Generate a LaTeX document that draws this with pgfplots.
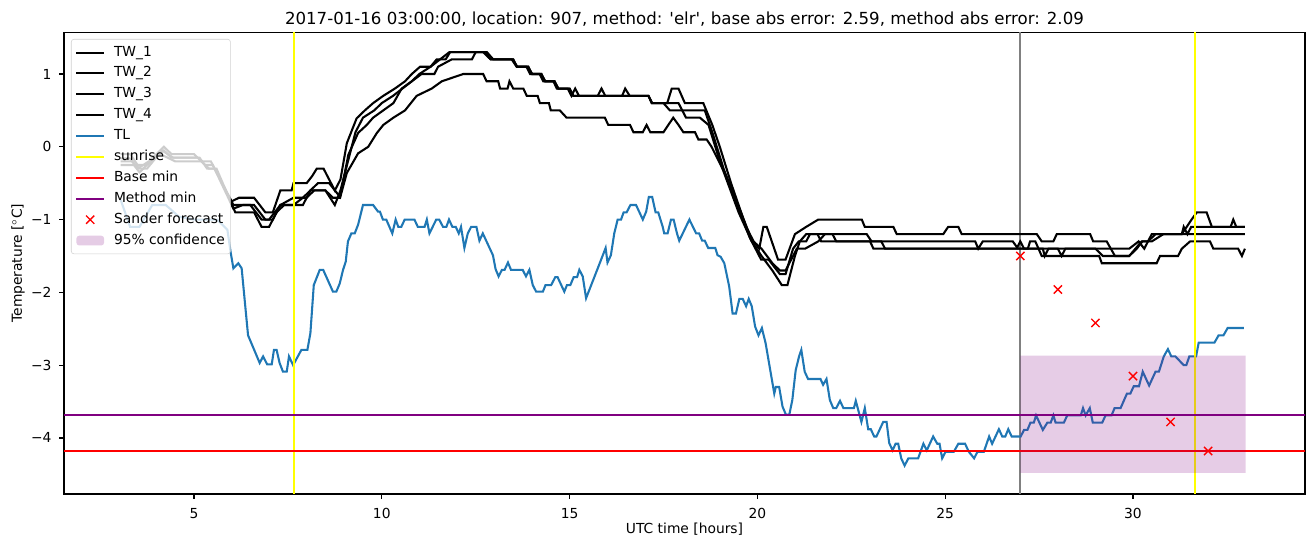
\documentclass[border=0pt]{standalone}
\usepackage{pgfplots}
\pgfplotsset{compat=1.18}
\usepackage{fontspec}
\setmainfont{DejaVu Sans}
\definecolor{tlblue}{RGB}{31,119,180}
\definecolor{mplpurple}{RGB}{128,0,128}
\definecolor{mplgray}{RGB}{128,128,128}
\definecolor{mplyellow}{RGB}{255,255,0}
\definecolor{mplred}{RGB}{255,0,0}
\pgfplotsset{boxlegend/.style={legend image code/.code={\fill[##1] (0pt,-3.5pt) rectangle (20pt,3.5pt);}}}
\begin{document}
\begin{tikzpicture}
\begin{axis}[
  name=ax, at={(0,0)}, anchor=south west,
  scale only axis, width=12.41in, height=4.617in,
  xmin=1.54, xmax=34.58, ymin=-4.77, ymax=1.573,
  xtick={5,10,15,20,25,30},
  ytick={-4,-3,-2,-1,0,1}, yticklabels={−4,−3,−2,−1,0,1},
  tick align=outside, xtick pos=bottom, ytick pos=left,
  major tick length=3.5pt,
  every tick/.style={black, line width=0.8pt},
  axis line style={line width=0.8pt},
  ticklabel style={font=\fontsize{10}{12}\selectfont},
  xticklabel style={yshift=-3.5pt},
  yticklabel style={xshift=-2pt},
  /pgf/number format/assume math mode=true,
  xlabel={UTC time [hours]}, ylabel={Temperature [$^\circ$C]},
  label style={font=\fontsize{10}{12}\selectfont},
  xlabel style={at={(axis description cs:0.5,-0.0758)}, anchor=center},
  ylabel style={at={(axis description cs:-0.0371,0.5)}, anchor=center},
  title={2017-01-16 03:00:00, location: 907, method: \textquotesingle elr\textquotesingle, base abs error: 2.59, method abs error: 2.09},
  title style={font=\fontsize{12}{14}\selectfont, yshift=-5.3pt},
  legend cell align=left,
  legend style={at={(0.0056,0.9855)}, anchor=north west, draw=black!18, rounded corners=2pt,
    fill=white, fill opacity=0.8, text opacity=1, draw opacity=1,
    font=\fontsize{10}{12}\selectfont, row sep=3.1pt, column sep=5.5pt, inner xsep=3pt, inner ysep=3.6pt,
    nodes={inner sep=1pt, text height=7.5pt, text depth=2.5pt}},
  legend image code/.code={\draw[mark repeat=2,mark phase=2,#1] plot coordinates {(0cm,0cm) (0.35cm,0cm) (0.7cm,0cm)};},
  every axis plot/.append style={line width=1.5pt},
]
\addplot[mplgray, forget plot] coordinates {(27.0,-10) (27.0,10)};
% TW_1
\addplot[black, sharp plot] coordinates {(3.05,-0.16)(3.3,-0.16)(3.5,-0.3)(3.8,-0.2)(4.2,0.0)(4.4,-0.1)(5.0,-0.1)(5.2,-0.2)(5.45,-0.2)(6.0,-0.75)(6.2,-0.7)(6.6,-0.7)(6.9,-0.9)(7.1,-0.9)(7.3,-0.6)(7.6,-0.6)(7.65,-0.5)(8.0,-0.5)(8.15,-0.4)(8.27,-0.3)(8.45,-0.3)(8.75,-0.6)(8.9,-0.45)(9.07,0.05)(9.33,0.39)(9.55,0.5)(9.77,0.6)(10.04,0.7)(10.35,0.8)(10.62,0.9)(10.8,1.0)(11.02,1.1)(11.3,1.1)(11.46,1.2)(11.7,1.2)(11.82,1.3)(12.8,1.3)(12.97,1.2)(13.46,1.2)(13.59,1.1)(13.85,1.1)(13.95,1.0)(14.2,1.0)(14.3,0.9)(14.57,0.9)(14.66,0.8)(14.95,0.8)(15.05,0.7)(15.15,0.8)(15.25,0.7)(15.75,0.7)(15.85,0.8)(15.95,0.7)(16.4,0.7)(16.48,0.8)(16.6,0.7)(17.1,0.7)(17.19,0.6)(17.6,0.6)(17.72,0.8)(17.9,0.8)(18.07,0.6)(18.56,0.6)(18.8,0.3)(19.0,0.0)(19.3,-0.5)(19.5,-0.8)(19.7,-1.1)(19.9,-1.3)(20.05,-1.4)(20.16,-1.1)(20.25,-1.1)(20.55,-1.55)(20.75,-1.55)(21.0,-1.2)(21.3,-1.1)(21.62,-1.0)(22.78,-1.0)(22.86,-1.1)(23.62,-1.1)(23.71,-1.2)(24.95,-1.2)(25.08,-1.1)(25.35,-1.1)(25.44,-1.2)(27.44,-1.2)(27.57,-1.3)(27.88,-1.3)(27.97,-1.2)(28.86,-1.2)(28.94,-1.3)(29.3,-1.3)(29.52,-1.5)(29.9,-1.5)(30.23,-1.3)(30.5,-1.3)(30.81,-1.2)(31.3,-1.2)(31.56,-1.0)(31.7,-0.9)(31.96,-0.9)(32.1,-1.1)(32.98,-1.1)};
\addlegendentry{TW\_1}
% TW_2
\addplot[black] coordinates {(3.05,-0.1)(3.3,-0.1)(3.5,-0.25)(3.7,-0.25)(4.2,-0.05)(4.4,-0.15)(5.1,-0.15)(5.3,-0.25)(5.5,-0.25)(6.05,-0.85)(6.3,-0.8)(6.6,-0.8)(6.9,-1.0)(7.1,-1.0)(7.3,-0.8)(7.9,-0.8)(8.1,-0.6)(8.3,-0.5)(8.6,-0.5)(8.89,-0.69)(9.11,-0.11)(9.37,0.19)(9.6,0.3)(9.77,0.4)(10.04,0.5)(10.31,0.6)(10.53,0.8)(10.8,0.9)(11.06,1.0)(11.4,1.0)(11.5,1.1)(11.86,1.2)(12.4,1.2)(12.5,1.3)(12.75,1.3)(12.9,1.2)(13.5,1.2)(13.6,1.1)(13.9,1.1)(14.0,1.0)(14.25,1.0)(14.35,0.9)(14.6,0.9)(14.7,0.8)(15.0,0.8)(15.1,0.7)(17.1,0.7)(17.2,0.6)(17.5,0.6)(17.67,0.5)(18.0,0.5)(18.1,0.4)(18.47,0.4)(18.7,0.3)(19.0,-0.2)(19.5,-0.9)(19.85,-1.3)(20.11,-1.5)(20.4,-1.7)(20.65,-1.9)(20.8,-1.9)(21.0,-1.5)(21.13,-1.3)(21.3,-1.2)(22.91,-1.2)(23.04,-1.3)(25.8,-1.3)(25.88,-1.4)(26.0,-1.3)(26.8,-1.3)(26.94,-1.4)(27.2,-1.4)(27.26,-1.3)(27.4,-1.3)(27.57,-1.5)(29.1,-1.5)(29.17,-1.6)(30.63,-1.6)(30.72,-1.5)(31.2,-1.5)(31.3,-1.4)(31.52,-1.3)(32.05,-1.3)(32.14,-1.4)(32.8,-1.4)(32.9,-1.5)(32.98,-1.4)};
\addlegendentry{TW\_2}
% TW_3
\addplot[black] coordinates {(3.05,-0.25)(3.4,-0.25)(3.55,-0.35)(3.75,-0.25)(4.1,-0.1)(4.5,-0.2)(5.2,-0.2)(5.4,-0.3)(5.6,-0.3)(6.1,-0.9)(6.6,-0.9)(6.8,-1.1)(7.0,-1.1)(7.2,-0.9)(7.4,-0.8)(7.65,-0.8)(7.9,-0.7)(8.1,-0.6)(8.5,-0.6)(8.7,-0.7)(8.89,-0.7)(9.07,-0.36)(9.37,-0.09)(9.64,0.0)(9.87,0.19)(10.04,0.3)(10.31,0.4)(10.62,0.5)(10.93,0.7)(11.33,0.8)(11.6,0.9)(12.17,1.0)(12.7,1.0)(12.79,0.9)(13.1,0.9)(13.15,0.8)(13.35,0.8)(13.4,0.9)(13.5,0.8)(13.77,0.8)(13.86,0.7)(14.15,0.7)(14.21,0.6)(14.45,0.6)(14.5,0.5)(14.74,0.5)(14.92,0.4)(15.94,0.4)(16.03,0.3)(16.61,0.3)(16.7,0.2)(16.95,0.2)(17.05,0.3)(17.15,0.2)(17.5,0.2)(17.76,0.4)(17.9,0.3)(18.03,0.2)(18.34,0.2)(18.43,0.1)(18.65,0.1)(18.78,0.0)(19.18,-0.41)(19.54,-0.87)(19.85,-1.28)(20.11,-1.4)(20.4,-1.6)(20.6,-1.7)(20.75,-1.7)(21.05,-1.4)(21.27,-1.4)(21.62,-1.3)(21.8,-1.2)(22.0,-1.2)(22.1,-1.3)(23.0,-1.3)(23.09,-1.4)(27.6,-1.4)(27.65,-1.5)(27.75,-1.4)(28.0,-1.4)(28.1,-1.5)(28.2,-1.4)(29.9,-1.4)(30.15,-1.3)(30.3,-1.4)(30.4,-1.3)(30.6,-1.2)(31.3,-1.2)(31.35,-1.1)(31.45,-1.2)(31.55,-1.1)(32.6,-1.1)(32.67,-1.0)(32.75,-1.1)(32.98,-1.1)};
\addlegendentry{TW\_3}
% TW_4
\addplot[black] coordinates {(3.05,-0.2)(3.35,-0.2)(3.55,-0.3)(3.75,-0.3)(4.15,-0.05)(4.45,-0.15)(5.15,-0.15)(5.35,-0.3)(5.55,-0.3)(6.05,-0.8)(6.5,-0.8)(6.8,-1.0)(7.0,-1.0)(7.3,-0.8)(7.65,-0.7)(8.0,-0.7)(8.2,-0.6)(8.5,-0.6)(8.75,-0.8)(8.9,-0.6)(9.1,-0.2)(9.3,0.2)(9.5,0.4)(9.8,0.5)(10.0,0.6)(10.3,0.7)(10.55,0.8)(10.8,0.9)(11.0,1.0)(11.3,1.1)(11.55,1.2)(11.8,1.3)(12.7,1.3)(12.9,1.2)(13.5,1.2)(13.6,1.1)(13.9,1.1)(14.0,1.0)(14.25,1.0)(14.35,0.9)(14.6,0.9)(14.7,0.8)(15.0,0.8)(15.1,0.7)(17.1,0.7)(17.19,0.6)(17.9,0.6)(18.0,0.5)(18.6,0.5)(18.8,0.2)(19.1,-0.3)(19.5,-0.85)(19.8,-1.25)(20.1,-1.55)(20.3,-1.55)(20.6,-1.75)(20.75,-1.75)(20.95,-1.4)(21.1,-1.3)(21.3,-1.3)(21.4,-1.2)(21.6,-1.2)(21.7,-1.3)(23.3,-1.3)(23.4,-1.4)(26.9,-1.4)(27.0,-1.3)(27.1,-1.4)(29.0,-1.4)(29.2,-1.5)(29.9,-1.5)(30.1,-1.4)(30.25,-1.3)(30.4,-1.3)(30.5,-1.2)(32.98,-1.2)};
\addlegendentry{TW\_4}
% TL
\addplot[tlblue] coordinates {(3.05,-0.73)(3.3,-1.10)(3.55,-1.10)(3.89,-0.80)(4.25,-0.80)(4.6,-0.96)(5.0,-1.0)(5.62,-1.0)(5.89,-1.14)(5.98,-1.46)(6.05,-1.67)(6.18,-1.60)(6.27,-1.67)(6.44,-2.59)(6.75,-2.97)(6.84,-2.88)(6.95,-2.99)(7.07,-2.99)(7.13,-2.79)(7.2,-2.79)(7.28,-2.97)(7.37,-3.09)(7.47,-3.09)(7.53,-2.88)(7.64,-3.0)(7.86,-2.79)(8.02,-2.79)(8.1,-2.56)(8.19,-1.90)(8.35,-1.69)(8.44,-1.69)(8.7,-1.99)(8.79,-1.99)(8.88,-1.88)(8.97,-1.69)(9.04,-1.58)(9.1,-1.30)(9.19,-1.19)(9.28,-1.19)(9.37,-1.07)(9.5,-0.80)(9.77,-0.80)(9.9,-0.89)(9.95,-0.89)(10.03,-1.0)(10.12,-1.0)(10.28,-1.19)(10.37,-1.0)(10.44,-1.10)(10.52,-1.10)(10.61,-1.0)(10.87,-1.0)(10.96,-1.10)(11.14,-1.10)(11.2,-1.0)(11.27,-1.19)(11.45,-1.0)(11.53,-1.0)(11.63,-1.10)(11.72,-1.10)(11.79,-1.0)(11.88,-1.10)(11.97,-1.10)(12.05,-1.19)(12.11,-1.10)(12.2,-1.39)(12.29,-1.19)(12.38,-1.10)(12.52,-1.10)(12.6,-1.29)(12.69,-1.19)(12.96,-1.49)(13.03,-1.68)(13.11,-1.78)(13.2,-1.69)(13.27,-1.69)(13.36,-1.59)(13.44,-1.69)(13.75,-1.69)(13.84,-1.78)(13.93,-1.69)(14.02,-1.90)(14.11,-1.99)(14.29,-1.99)(14.36,-1.90)(14.51,-1.90)(14.62,-1.79)(14.68,-1.79)(14.86,-1.99)(14.93,-1.90)(15.02,-1.90)(15.11,-1.79)(15.2,-1.79)(15.26,-1.69)(15.35,-1.78)(15.44,-2.08)(15.75,-1.67)(15.96,-1.39)(16.01,-1.59)(16.1,-1.49)(16.19,-1.19)(16.28,-1.0)(16.37,-1.0)(16.44,-0.90)(16.52,-0.90)(16.62,-0.80)(16.77,-0.80)(16.95,-1.0)(17.04,-0.89)(17.11,-0.69)(17.2,-0.69)(17.29,-0.9)(17.36,-0.9)(17.48,-1.10)(17.52,-1.19)(17.61,-1.19)(17.7,-1.0)(17.77,-1.0)(17.86,-1.19)(17.92,-1.29)(18.19,-1.0)(18.37,-1.19)(18.45,-1.19)(18.53,-1.29)(18.6,-1.29)(18.69,-1.39)(18.88,-1.39)(18.94,-1.49)(19.02,-1.51)(19.12,-1.60)(19.25,-1.92)(19.34,-2.29)(19.43,-2.29)(19.52,-2.09)(19.61,-2.09)(19.7,-2.19)(19.77,-2.09)(19.85,-2.19)(19.94,-2.47)(20.03,-2.59)(20.12,-2.49)(20.22,-2.70)(20.31,-2.97)(20.45,-3.39)(20.49,-3.30)(20.58,-3.30)(20.67,-3.57)(20.76,-3.68)(20.85,-3.68)(20.93,-3.48)(21.02,-3.07)(21.11,-2.88)(21.17,-2.79)(21.26,-3.09)(21.35,-3.19)(21.68,-3.19)(21.75,-3.27)(21.84,-3.19)(21.93,-3.48)(22.02,-3.59)(22.1,-3.59)(22.2,-3.49)(22.29,-3.59)(22.57,-3.59)(22.62,-3.49)(22.77,-3.78)(22.86,-3.59)(22.95,-3.88)(23.02,-3.88)(23.11,-3.98)(23.17,-3.98)(23.35,-3.78)(23.44,-3.78)(23.51,-4.07)(23.6,-4.17)(23.68,-4.08)(23.75,-4.08)(23.83,-4.28)(23.92,-4.38)(24.02,-4.28)(24.28,-4.28)(24.42,-4.08)(24.51,-4.17)(24.68,-3.98)(24.79,-4.08)(24.85,-4.08)(24.92,-4.28)(25.01,-4.19)(25.23,-4.19)(25.35,-4.08)(25.53,-4.08)(25.63,-4.19)(25.77,-4.28)(25.86,-4.19)(26.03,-4.19)(26.17,-3.98)(26.25,-4.08)(26.43,-3.88)(26.52,-3.98)(26.6,-3.98)(26.68,-3.88)(26.77,-3.98)(27.01,-3.98)(27.1,-3.89)(27.19,-3.89)(27.27,-3.79)(27.36,-3.79)(27.42,-3.69)(27.6,-3.89)(27.72,-3.79)(27.81,-3.79)(27.88,-3.69)(27.94,-3.79)(28.16,-3.79)(28.25,-3.69)(28.61,-3.69)(28.67,-3.59)(28.74,-3.69)(28.85,-3.59)(28.93,-3.79)(29.18,-3.79)(29.27,-3.69)(29.43,-3.69)(29.51,-3.59)(29.67,-3.59)(29.84,-3.39)(29.93,-3.39)(30.02,-3.29)(30.16,-3.29)(30.26,-3.09)(30.43,-3.28)(30.6,-3.09)(30.69,-3.09)(30.82,-2.88)(30.93,-2.78)(31.02,-2.88)(31.13,-2.88)(31.35,-3.0)(31.42,-3.0)(31.5,-2.88)(31.68,-2.88)(31.75,-2.69)(32.17,-2.69)(32.28,-2.59)(32.41,-2.59)(32.52,-2.49)(32.95,-2.49)};
\addlegendentry{TL}
\addplot[mplyellow] coordinates {(7.66,-10) (7.66,10)};
\addlegendentry{sunrise}
\addplot[mplyellow, forget plot] coordinates {(31.65,-10) (31.65,10)};
\addplot[mplred] coordinates {(0,-4.18) (40,-4.18)};
\addlegendentry{Base min}
\addplot[mplpurple] coordinates {(0,-3.68) (40,-3.68)};
\addlegendentry{Method min}
\addplot[mplred, only marks, mark=x, mark size=4.2pt, line width=1pt] coordinates {(27,-1.50)(28,-1.96)(29,-2.42)(30,-3.15)(31,-3.78)(32,-4.18)};
\addlegendentry{Sander forecast}
\addplot[draw=none, fill=mplpurple, fill opacity=0.2, boxlegend]
  coordinates {(27,-4.48) (33,-4.48) (33,-2.87) (27,-2.87) (27,-4.48)};
\addlegendentry{95\% confidence}
\end{axis}
\pgfresetboundingbox
\path (-0.64in,-0.53in) rectangle (12.49in,4.94in);
\end{tikzpicture}
\end{document}
